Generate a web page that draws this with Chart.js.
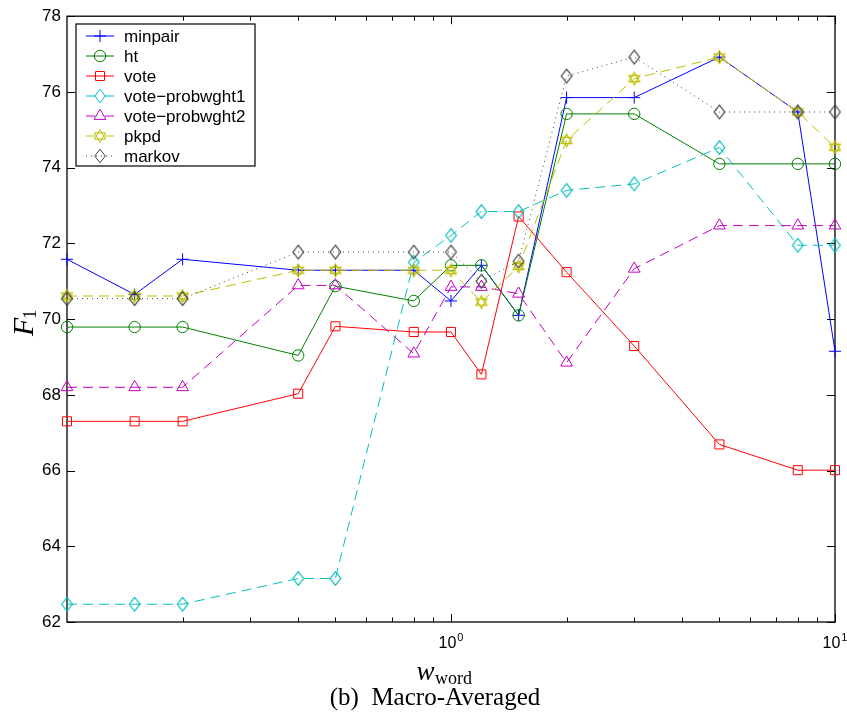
<!DOCTYPE html>
<html>
<head>
<meta charset="utf-8">
<script src="https://cdn.jsdelivr.net/npm/chart.js@4.4.1/dist/chart.umd.min.js"></script>
<style>
  html, body { margin: 0; padding: 0; background: #fff; }
  #wrap { width: 847px; height: 713px; }
</style>
</head>
<body>
<div id="wrap"><canvas id="f1-chart" width="847" height="713"></canvas></div>
<script>
// word weight (x axis, log scale)
var weights = [0.1, 0.15, 0.2, 0.4, 0.5, 0.8, 1, 1.2, 1.5, 2, 3, 5, 8, 10];

// macro-averaged F1 for each method
var minpair = [71.58, 70.65, 71.58, 71.29, 71.29, 71.29, 70.48, 71.42, 70.10, 75.85, 75.85, 76.92, 75.47, 69.15];
var ht      = [69.79, 69.79, 69.79, 69.04, 70.87, 70.48, 71.42, 71.42, 70.10, 75.42, 75.42, 74.10, 74.10, 74.10];
var vote    = [67.30, 67.30, 67.30, 68.03, 69.81, 69.66, 69.66, 68.54, 72.71, 71.24, 69.29, 66.69, 66.01, 66.01];
var probwght1 = [62.47, 62.47, 62.47, 63.15, 63.15, 71.50, 72.21, 72.84, 72.84, 73.40, 73.57, 74.53, 71.95, 71.95];
var probwght2 = [68.20, 68.20, 68.20, 70.89, 70.89, 69.09, 70.85, 70.85, 70.67, 68.85, 71.33, 72.47, 72.47, 72.47];
var pkpd    = [70.61, 70.61, 70.61, 71.29, 71.29, 71.29, 71.29, 70.45, 71.39, 74.72, 76.35, 76.92, 75.47, 74.54];
var markov  = [70.54, 70.54, 70.54, 71.77, 71.77, 71.77, 71.77, 71.00, 71.53, 76.42, 76.92, 75.47, 75.47, 75.47];

// axis ticks
var yTicks = [62, 64, 66, 68, 70, 72, 74, 76, 78];
var xDecades = [1, 10];
var xMinor = [0.2, 0.3, 0.4, 0.5, 0.6, 0.7, 0.8, 0.9, 2, 3, 4, 5, 6, 7, 8, 9];

var series = [
  { label: 'minpair',          data: minpair,   color: '#0000ff', dash: [],      marker: 'plus',     radius: 6 },
  { label: 'ht',               data: ht,        color: '#008000', dash: [],      marker: 'circle',   radius: 5.7 },
  { label: 'vote',             data: vote,      color: '#ff0000', dash: [],      marker: 'square',   radius: 6.4 },
  { label: 'vote\u2212probwght1', data: probwght1, color: '#00bfbf', dash: [10, 6], marker: 'diamond', radius: 6 },
  { label: 'vote\u2212probwght2', data: probwght2, color: '#bf00bf', dash: [10, 6], marker: 'triangle', radius: 6.8 },
  { label: 'pkpd',             data: pkpd,      color: '#bfbf00', dash: [10, 6], marker: 'hexagram', radius: 6 },
  { label: 'markov',           data: markov,    color: '#404040', dash: [1, 4],  marker: 'diamond',  radius: 6 }
];

var SANS = '"Liberation Sans", Arial, Helvetica, sans-serif';
var SERIF = '"Liberation Serif", "Times New Roman", serif';

// path of an open marker centred on (cx, cy)
function markerPath(g, kind, cx, cy) {
  g.beginPath();
  if (kind === 'plus') {
    g.moveTo(cx - 6, cy); g.lineTo(cx + 6, cy);
    g.moveTo(cx, cy - 6); g.lineTo(cx, cy + 6);
  } else if (kind === 'circle') {
    g.arc(cx, cy, 5.7, 0, Math.PI * 2);
  } else if (kind === 'square') {
    g.rect(cx - 4.5, cy - 4.5, 9, 9);
  } else if (kind === 'diamond') {
    g.moveTo(cx, cy - 6.8); g.lineTo(cx + 5.3, cy);
    g.lineTo(cx, cy + 6.8); g.lineTo(cx - 5.3, cy); g.closePath();
  } else if (kind === 'triangle') {
    g.moveTo(cx, cy - 6.8); g.lineTo(cx + 5.9, cy + 3.4);
    g.lineTo(cx - 5.9, cy + 3.4); g.closePath();
  } else if (kind === 'hexagram') {
    var r = 6.3;
    for (var k = 0; k < 2; k++) {
      var off = k === 0 ? -Math.PI / 2 : Math.PI / 2;
      for (var j = 0; j < 3; j++) {
        var ang = off + j * 2 * Math.PI / 3;
        var px = cx + r * Math.cos(ang), py = cy + r * Math.sin(ang);
        if (j === 0) g.moveTo(px, py); else g.lineTo(px, py);
      }
      g.closePath();
    }
  }
}

// diamond and hexagram have no built-in point style, so use small canvases
function markerImage(kind, color) {
  var c = document.createElement('canvas');
  c.width = 17; c.height = 17;
  var g = c.getContext('2d');
  g.strokeStyle = color;
  g.lineWidth = 1.2;
  markerPath(g, kind, 8.5, 8.5);
  g.stroke();
  return c;
}

var builtIn = { plus: 'cross', circle: 'circle', square: 'rect', triangle: 'triangle' };

var datasets = series.map(function (s, i) {
  var style = builtIn[s.marker] || markerImage(s.marker, s.color);
  return {
    label: s.label,
    data: weights.map(function (w, j) { return { x: w, y: s.data[j] }; }),
    borderColor: s.color,
    borderWidth: 1,
    borderDash: s.dash,
    pointStyle: style,
    pointRadius: s.radius,
    pointHoverRadius: s.radius,
    pointBorderWidth: 1,
    pointBorderColor: s.color,
    pointBackgroundColor: 'rgba(0,0,0,0)',
    backgroundColor: 'rgba(0,0,0,0)',
    fill: false,
    tension: 0,
    clip: false,
    order: series.length - i
  };
});

// box, inward tick marks and axis labels
var axesBox = {
  id: 'axesBox',
  beforeDatasetsDraw: function (chart) {
    var ctx = chart.ctx, a = chart.chartArea;
    var xs = chart.scales.x, ys = chart.scales.y;
    ctx.save();
    ctx.strokeStyle = '#000';
    ctx.lineWidth = 1;
    ctx.beginPath();
    yTicks.forEach(function (v) {
      var p = Math.round(ys.getPixelForValue(v)) + 0.5;
      ctx.moveTo(a.left, p); ctx.lineTo(a.left + 8, p);
      ctx.moveTo(a.right, p); ctx.lineTo(a.right - 8, p);
    });
    xMinor.forEach(function (v) {
      var p = Math.round(xs.getPixelForValue(v)) + 0.5;
      ctx.moveTo(p, a.bottom); ctx.lineTo(p, a.bottom - 4.5);
      ctx.moveTo(p, a.top); ctx.lineTo(p, a.top + 4.5);
    });
    xDecades.forEach(function (v) {
      var p = Math.round(xs.getPixelForValue(v)) + 0.5;
      ctx.moveTo(p, a.bottom); ctx.lineTo(p, a.bottom - 8);
      ctx.moveTo(p, a.top); ctx.lineTo(p, a.top + 8);
    });
    ctx.stroke();
    ctx.lineWidth = 1.3;
    ctx.strokeRect(a.left, a.top, a.right - a.left, a.bottom - a.top);
    ctx.restore();
  },
  afterDraw: function (chart) {
    var ctx = chart.ctx;
    var xs = chart.scales.x;
    ctx.save();
    ctx.fillStyle = '#000';
    ctx.textBaseline = 'alphabetic';
    ctx.textAlign = 'left';

    // decade labels 10^n
    xDecades.forEach(function (v) {
      var p = xs.getPixelForValue(v);
      var exp = String(Math.round(Math.log10(v)));
      ctx.font = '16px ' + SANS;
      var wb = ctx.measureText('10').width;
      ctx.font = '11px ' + SANS;
      var we = ctx.measureText(exp).width;
      var x0 = p - (wb + we + 1) / 2;
      ctx.font = '16px ' + SANS;
      ctx.fillText('10', x0, 648);
      ctx.font = '11px ' + SANS;
      ctx.fillText(exp, x0 + wb + 1, 641);
    });

    // x title: w_word
    ctx.font = 'italic 27px ' + SERIF;
    var ww = ctx.measureText('w').width;
    ctx.font = '18px ' + SERIF;
    var wsub = ctx.measureText('word').width;
    var xt = 444 - (ww + wsub) / 2;
    ctx.font = 'italic 27px ' + SERIF;
    ctx.fillText('w', xt, 679.5);
    ctx.font = '18px ' + SERIF;
    ctx.fillText('word', xt + ww + 0.5, 683.5);

    // caption
    ctx.font = '25px ' + SERIF;
    ctx.textAlign = 'center';
    ctx.fillText('(b)  Macro-Averaged', 435, 705);

    // y title: F_1, rotated
    ctx.save();
    ctx.translate(33, 336);
    ctx.rotate(-Math.PI / 2);
    ctx.textAlign = 'left';
    ctx.font = 'italic 30px ' + SERIF;
    var fw = ctx.measureText('F').width;
    ctx.fillText('F', 0, 0);
    ctx.font = '18px ' + SERIF;
    ctx.fillText('1', fw - 1, 2.5);
    ctx.restore();

    // legend box
    var lx = 76, ly = 24, lw = 179, lh = 142;
    ctx.fillStyle = '#fff';
    ctx.fillRect(lx, ly, lw, lh);
    ctx.strokeStyle = '#000';
    ctx.lineWidth = 1.2;
    ctx.strokeRect(lx, ly, lw, lh);
    series.forEach(function (s, i) {
      var y = 36 + i * 20;
      ctx.save();
      ctx.strokeStyle = s.color;
      ctx.lineWidth = 1;
      ctx.setLineDash(s.dash);
      ctx.beginPath();
      if (s.dash.length && s.dash[0] > 2) {
        ctx.moveTo(86, y); ctx.lineTo(95, y);
        ctx.moveTo(105, y); ctx.lineTo(114, y);
      } else {
        ctx.moveTo(86, y); ctx.lineTo(114, y);
      }
      ctx.stroke();
      ctx.setLineDash([]);
      markerPath(ctx, s.marker, 100, y);
      ctx.stroke();
      ctx.restore();
      ctx.fillStyle = '#000';
      ctx.font = '17px ' + SANS;
      ctx.textAlign = 'left';
      ctx.textBaseline = 'middle';
      ctx.fillText(s.label, 124, y + 1);
    });
    ctx.restore();
  }
};

var ctx = document.getElementById('f1-chart');
var chart = new Chart(ctx, {
  type: 'line',
  data: { datasets: datasets },
  options: {
    responsive: false,
    animation: false,
    devicePixelRatio: 1,
    layout: { padding: { left: 0, right: 12, top: 16, bottom: 91 } },
    plugins: {
      legend: { display: false },
      tooltip: { enabled: false }
    },
    scales: {
      x: {
        type: 'logarithmic',
        min: 0.1,
        max: 10,
        display: false
      },
      y: {
        type: 'linear',
        min: 62,
        max: 78,
        grid: { display: false, drawTicks: false },
        border: { display: false },
        ticks: {
          stepSize: 2,
          padding: 6,
          color: '#000',
          font: { family: SANS, size: 17 }
        },
        afterFit: function (scale) { scale.width = 67; }
      }
    }
  },
  plugins: [axesBox]
});
</script>
</body>
</html>
